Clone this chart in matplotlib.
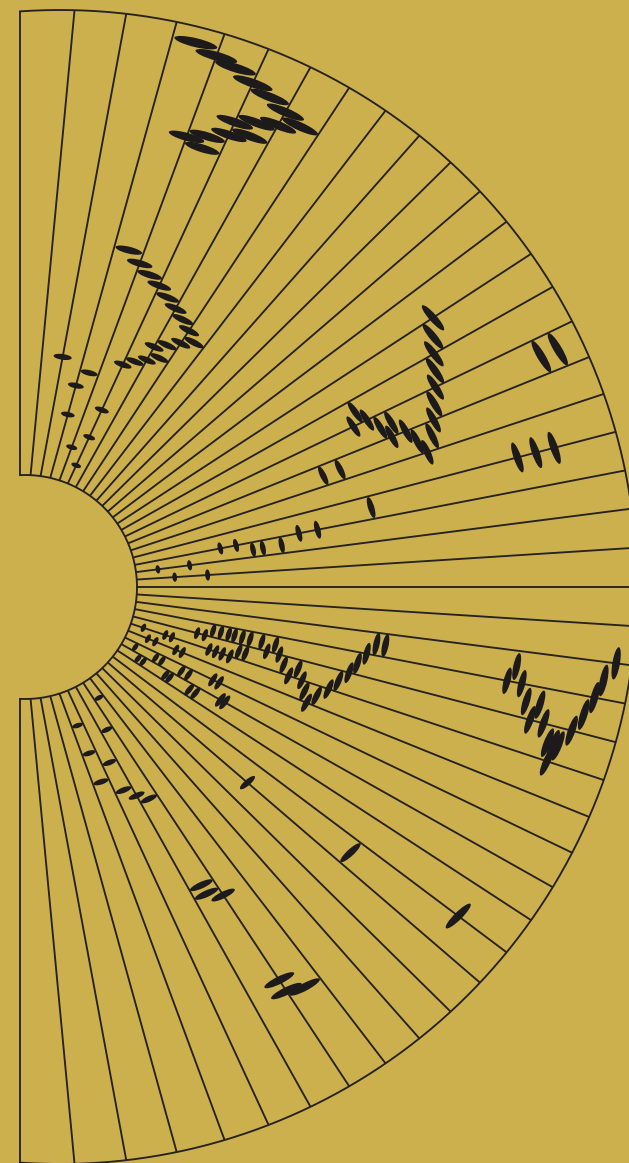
import numpy as np
import matplotlib
matplotlib.use("Agg")
import matplotlib.pyplot as plt
from matplotlib.collections import LineCollection, EllipseCollection

# spoke angles in degrees, upper half (vertical -> horizontal); lower half mirrors it
upper_spokes = [90, 84.6, 79.5, 74.5, 69.7, 65.2, 60.8, 56.6, 52.5, 48.5, 44.6,
                40.7, 36.9, 33.1, 29.4, 25.7, 22.0, 18.3, 14.6, 10.9, 7.3, 3.65, 0]

# marks: position along the fan (spoke index, halves allowed) and distance from the hub
crest_pos = [3.5, 4, 4.5, 5, 5.5, 6, 6.5, 6, 5.5, 5, 5, 5.5, 4.5, 4, 4.5]
crest_r = [572, 566, 562, 555, 550, 544, 539, 529, 521, 512, 498, 506, 488, 480, 475]

wave_pos = [3.5, 4, 4.5, 5, 5.5, 6, 6.5, 7, 7.5, 7, 6.5, 6, 6.5, 6, 5.5, 5]
wave_r = [354, 345, 338, 332, 325, 319, 313, 307, 300, 292, 283, 275, 268, 260, 253, 245]

column_pos = [2, 3.5, 3, 3, 5, 5, 4, 5]
column_r = [234, 225, 209, 179, 195, 165, 149, 134]

east_pos = [13, 13.5, 14, 14.5, 15, 15.5, 16, 16.5, 17,
            14.5, 15, 15, 15.5, 15.5, 16, 16, 16.5,
            15.5, 15.5, 18, 18, 18, 16.5, 16.5, 18.5,
            19, 19, 19.5, 19.5, 19.5, 19, 19, 20, 20, 21, 21]
east_r = [493, 483, 475, 468, 461, 453, 446, 439, 429,
          378, 370, 385, 394, 406, 401, 416, 423,
          570, 588, 514, 533, 552, 323, 341, 360,
          284, 303, 265, 246, 236, 220, 204, 139, 171, 155, 188]

inner_pos = [27, 27, 27, 26, 26, 25.5, 25.5, 25.5, 25.5, 25.5, 25.5,
             28, 28, 28, 28, 27, 27, 27, 27, 26.5, 26.5,
             29.5, 30.5, 30.5, 29.5, 29.5, 30.5, 30.5, 29.5, 29.5, 29, 29,
             30.5, 30.5, 30, 30]
inner_r = [130, 153, 160, 183, 191, 198, 206, 214, 220, 228, 236,
           138, 146, 168, 175, 199, 206, 213, 221, 228, 235,
           130, 138, 144, 153, 160, 170, 175, 182, 190, 214, 221,
           198, 205, 230, 235]

v_pos = [25.5, 26, 25.5, 26, 26.5, 27, 26.5, 27, 27.5, 28, 27.5, 27, 26.5, 26,
         25.5, 25, 24.5, 24.5]
v_r = [248, 255, 262, 268, 275, 283, 290, 297, 303, 309, 316, 325, 332, 340,
       346, 353, 361, 370]

rv_pos = [25, 24.5, 25, 25.5, 26, 25.5, 26, 26.5, 27, 26.5, 26.5, 26, 25.5, 25,
          24.5, 24]
rv_r = [496, 503, 511, 519, 527, 533, 541, 550, 555, 556, 561, 570, 578, 585,
        591, 601]

sw_pos = [36.5, 39.5, 37.5, 39.5, 38.5, 39.5, 38.5, 38, 37.5, 33, 37.5, 37.5,
          37, 37, 37, 36.5, 32.5, 32]
sw_r = [136, 150, 167, 180, 197, 211, 228, 239, 248, 300, 349, 359, 369, 471,
        484, 491, 424, 548]

# style
BG = "#CDB04E"
LINE = "#262220"
INK = "#1d1a1b"
HUB_X, HUB_R = 5, 112        # inner rim circle (offset from the hub)
RIM_X, RIM_R = 40, 577       # outer rim circle
STRETCH = 1.16               # leaning of the marks
group_scale = {"crest": 1.0, "wave": 1.0, "column": 1.0, "east": 1.05,
               "inner": 1.15, "v": 1.1, "rv": 0.95, "sw": 0.97}

spoke_deg = np.array(upper_spokes + [-a for a in upper_spokes[-2::-1]])
spoke_idx = np.arange(len(spoke_deg))


def ray_to_circle(phi, cx, rad):
    c = np.cos(phi)
    return cx * c + np.sqrt((cx * c) ** 2 + rad ** 2 - cx ** 2)


fig = plt.figure(figsize=(6.29, 11.63), dpi=100, facecolor=BG)
ax = fig.add_axes([0, 0, 1, 1])
ax.set_xlim(-20, 609)
ax.set_ylim(-576, 587)
ax.set_aspect("equal")
ax.axis("off")

# spokes
phi = np.radians(spoke_deg)
r0 = ray_to_circle(phi, HUB_X, HUB_R)
r1 = ray_to_circle(phi, RIM_X, RIM_R)
segs = [[(a * np.cos(p), a * np.sin(p)), (b * np.cos(p), b * np.sin(p))]
        for p, a, b in zip(phi, r0, r1)]
ax.add_collection(LineCollection(segs, colors=LINE, linewidths=1.35, zorder=1))

# rims
for cx, rad in [(HUB_X, HUB_R), (RIM_X, RIM_R)]:
    amax = np.arccos(-cx / rad)
    a = np.linspace(-amax, amax, 600)
    ax.plot(cx + rad * np.cos(a), rad * np.sin(a), color=LINE, lw=1.35, zorder=1)

# marks
groups = {"crest": (crest_pos, crest_r), "wave": (wave_pos, wave_r),
          "column": (column_pos, column_r), "east": (east_pos, east_r),
          "inner": (inner_pos, inner_r), "v": (v_pos, v_r),
          "rv": (rv_pos, rv_r), "sw": (sw_pos, sw_r)}

for name, (pos, rr) in groups.items():
    pos = np.array(pos, float)
    rr = np.array(rr, float)
    ang = np.radians(np.interp(pos, spoke_idx, spoke_deg))
    x = rr * np.cos(ang)
    y = rr * np.sin(ang)
    th = np.arctan2(STRETCH * np.sin(ang), np.cos(ang))
    psi = np.degrees(np.arctan2(np.cos(th), -STRETCH * np.sin(th)))
    length = rr * (0.057 + 0.022 * np.sin(ang) ** 2) * group_scale[name]
    width = 3.5 + 0.125 * length
    ec = EllipseCollection(length, width, psi, units="xy",
                           offsets=np.column_stack([x, y]),
                           offset_transform=ax.transData,
                           facecolors=INK, edgecolors="none", zorder=3)
    ax.add_collection(ec)

fig.savefig("out.png", dpi=100, facecolor=BG)
